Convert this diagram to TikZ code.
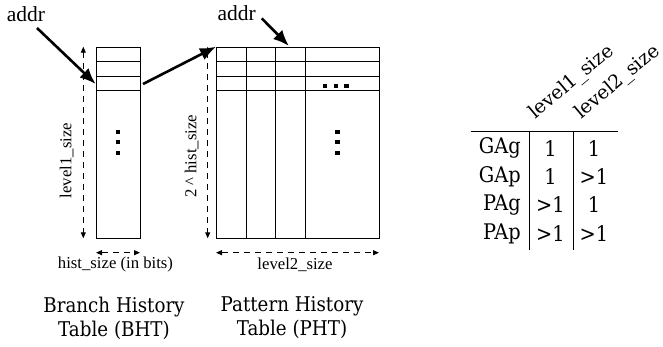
\documentclass[tikz,border=0pt]{standalone}
\usepackage{fontspec}
\setmainfont{Liberation Serif}
\newfontfamily\capfont[FakeStretch=0.9]{DejaVu Serif}
\newfontfamily\headfont{DejaVu Serif}
\usetikzlibrary{arrows.meta}

\tikzset{
  grid/.style={line width=0.8pt},
  dimline/.style={line width=0.9pt, dash pattern=on 6pt off 5pt,
    {Triangle[length=6pt,width=5pt]}-{Triangle[length=6pt,width=5pt]}},
  ptr/.style={line width=2.6pt, -{Latex[length=16pt,width=13pt]}},
  lbl/.style={font=\fontsize{16.7}{19}\selectfont, inner sep=0pt},
  addrlbl/.style={font=\fontsize{21.5}{24}\selectfont, inner sep=0pt},
  caption/.style={font=\capfont\fontsize{20.3}{24}\selectfont, align=center, inner sep=0pt},
  cell/.style={font=\capfont\fontsize{21.5}{24}\selectfont, inner sep=0pt},
  colhead/.style={font=\headfont\fontsize{19}{22}\selectfont, inner sep=0pt,
    rotate=40, anchor=base west},
}

\begin{document}
\begin{tikzpicture}[x=1pt,y=-1pt]
\useasboundingbox (0,0) rectangle (663,346);

% branch history table
\node[draw, grid, inner sep=0pt, anchor=north west,
  minimum width=44.3pt, minimum height=191.6pt] (bht) at (95.7,46.7) {};
\foreach \y in {61.7,76,90.7}
  \draw[grid] (95.7,\y) -- (140,\y);
\foreach \y in {131.7,142.2,152.7}
  \fill (115.8,\y-2) rectangle +(4.5,4);

% pattern history table
\node[draw, grid, inner sep=0pt, anchor=north west,
  minimum width=163pt, minimum height=191.6pt] (pht) at (216,46.7) {};
\foreach \y in {61.7,76,90.7}
  \draw[grid] (216,\y) -- (379,\y);
\foreach \x in {246,275.7,305.3}
  \draw[grid] (\x,46.7) -- (\x,238.3);
\foreach \y in {131.7,142.2,152.7}
  \fill (335,\y-2) rectangle +(4.5,4);
\foreach \x in {325,335.8,346.6}
  \fill (\x-2.2,83.7) rectangle +(4.5,4);

% addresses
\node[addrlbl] (addrA) at (26,14) {addr};
\node[addrlbl] (addrB) at (236.8,13) {addr};
\coordinate (tailA) at (37,28);
\coordinate (tailB) at (261.7,18.3);
\coordinate (tailC) at (143,84);
\coordinate (rowA) at (95.7,84);
\coordinate (colB) at (289,46);
\draw[ptr] (tailA) -- (rowA);
\draw[ptr] (tailB) -- (colB);
\draw[ptr] (tailC) -- (pht.north west);

% sizes
\draw[dimline] (83.3,46.7) -- (83.3,238.3);
\draw[dimline] (207.7,46.7) -- (207.7,238.3);
\draw[dimline] (96,252.7) -- (140,252.7);
\draw[dimline] (216,252.7) -- (379,252.7);
\node[lbl, rotate=90] (lvlA) at (66.7,160.5) {level1\_size};
\node[lbl, rotate=90] (histB) at (191.7,156.5) {2 \textasciicircum{} hist\_size};
\node[lbl] (histA) at (115.5,264.3) {hist\_size (in bits)};
\node[lbl] (lvlB) at (295,264.3) {level2\_size};

\node[caption] (bhtname) at (114,318) {Branch History\\Table (BHT)};
\node[caption] (phtname) at (292,318) {Pattern History\\Table (PHT)};

% schemes
\draw[grid] (470.7,131.7) -- (617.7,131.7);
\draw[grid] (529.3,131.7) -- (529.3,250);
\draw[grid] (573.3,131.7) -- (573.3,250);
\node[colhead] (hA) at (535,120) {level1\_size};
\node[colhead] (hB) at (581,120) {level2\_size};
\foreach \name/\a/\b/\y in {GAg/1/1/148.3, GAp/1/>1/176.7,
                            PAg/>1/1/205, PAp/>1/>1/234}{
  \node[cell, anchor=east] (n\name) at (521,\y) {\name};
  \node[cell] (a\name) at (550.5,\y) {\a};
  \node[cell] (b\name) at (594,\y) {\b};
}
\end{tikzpicture}
\end{document}
